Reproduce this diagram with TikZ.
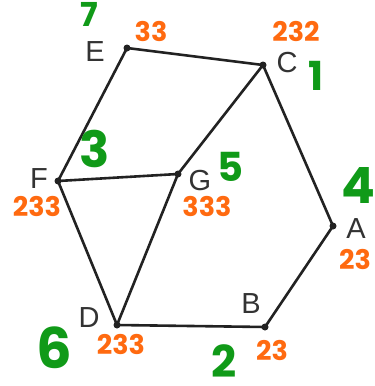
\documentclass[tikz,border=0pt]{standalone}
\usepackage{fontspec}
\setmainfont{Liberation Sans}
\newfontfamily\handfont{Poppins}
\usepackage{xcolor}
\usetikzlibrary{positioning}
\definecolor{edgegray}{HTML}{222222}
\definecolor{lblgray}{HTML}{333333}
\definecolor{degorange}{HTML}{FF6A10}
\definecolor{ordgreen}{HTML}{109A18}

\begin{document}
\begin{tikzpicture}[x=1pt,y=-1pt,
 vtx/.style={circle,fill=edgegray,inner sep=0pt,minimum size=7pt},
 edge/.style={draw=edgegray,line width=2.6pt,line cap=round},
 lbl/.style={text=lblgray,font=\fontsize{29}{30}\selectfont,inner sep=0pt,text height=21pt,text depth=0pt},
 deg/.style={text=degorange,font=\handfont\bfseries\fontsize{27}{28}\selectfont,inner sep=0pt,text height=19pt,text depth=0pt},
 ord/.style 2 args={text=ordgreen,font=\handfont\bfseries\fontsize{#1}{#1}\selectfont,inner sep=0pt,text height=#2,text depth=0pt}]
\path[use as bounding box,fill=white] (0,0) rectangle (375,386);
% vertices
\node[vtx] (E) at (127,48) {};
\node[vtx] (C) at (263,65) {};
\node[vtx] (A) at (333,226) {};
\node[vtx] (B) at (265,327) {};
\node[vtx] (D) at (117,325) {};
\node[vtx] (F) at (58,181) {};
\node[vtx] (G) at (178,174) {};
% edges
\draw[edge] (E.center)--(C.center)--(A.center)--(B.center)--(D.center)--(F.center)--cycle;
\draw[edge] (F.center)--(G.center)--(C.center);
\draw[edge] (G.center)--(D.center);
% letters
\node[lbl] (labE) at (95,51) {E};
\node[lbl] (labC) at (287,62) {C};
\node[lbl] (labA) at (356,228) {A};
\node[lbl] (labB) at (251,303) {B};
\node[lbl] (labD) at (89,317) {D};
\node[lbl] (labF) at (39,178) {F};
\node[lbl] (labG) at (200,180) {G};
% orange numbers
\node[deg] (degE) at (151,32) {33};
\node[deg] (degC) at (296,32) {232};
\node[deg] (degA) at (355,260) {23};
\node[deg] (degB) at (272,351) {23};
\node[deg] (degD) at (121,345) {233};
\node[deg] (degF) at (37,207) {233};
\node[deg] (degG) at (207,207) {333};
% green numbers
\node[ord={33}{23pt}] (ordE) at (89,15) {7};
\node[ord={40}{28pt}] (ordC) at (316,76) {1};
\node[ord={50}{35pt}] (ordA) at (358,186) {4};
\node[ord={44}{31pt}] (ordB) at (224,362) {2};
\node[ord={56}{39pt}] (ordD) at (54,349) {6};
\node[ord={50}{35pt}] (ordF) at (95,150) {3};
\node[ord={40}{28pt}] (ordG) at (230,167) {5};
\end{tikzpicture}
\end{document}
